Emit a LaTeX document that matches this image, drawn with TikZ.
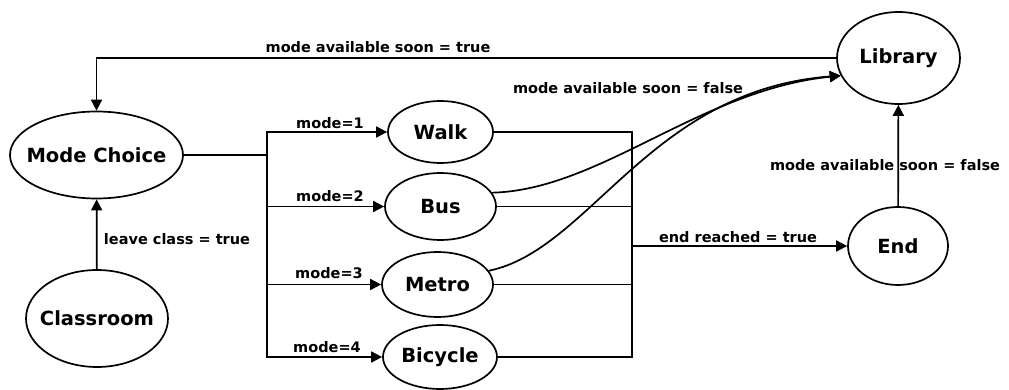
\documentclass[tikz,border=0pt]{standalone}
\usepackage{fontspec}
\setmainfont{DejaVu Sans}
\usetikzlibrary{arrows.meta,shapes.geometric}
\begin{document}
\begin{tikzpicture}[x=1pt,y=-1pt,
  state/.style={draw, ellipse, line width=1.7pt, inner sep=0pt,
    font=\fontsize{19.5}{22}\selectfont\bfseries},
  lab/.style={font=\fontsize{14.5}{16}\selectfont\bfseries, inner sep=0pt},
  conn/.style={line width=1.7pt},
  arr/.style={conn, -{Triangle[length=11pt,width=11pt]}}]
\useasboundingbox (0,0) rectangle (1009,390);
% states
\node[state, minimum width=173pt, minimum height=87pt] (mode) at (96.5,155) {\makebox[0pt]{Mode Choice}};
\node[state, minimum width=142pt, minimum height=97pt] (class) at (97,318.5) {\makebox[0pt]{Classroom}};
\node[state, minimum width=105pt, minimum height=62pt] (walk) at (440.5,132) {\makebox[0pt]{Walk}};
\node[state, minimum width=111pt, minimum height=67pt] (bus) at (440.5,206.5) {\makebox[0pt]{Bus}};
\node[state, minimum width=111pt, minimum height=65pt] (metro) at (437.5,284.5) {\makebox[0pt]{Metro}};
\node[state, minimum width=114pt, minimum height=64pt] (bike) at (440,357) {\makebox[0pt]{Bicycle}};
\node[state, minimum width=123pt, minimum height=92pt] (lib) at (898.5,58) {\makebox[0pt]{Library}};
\node[state, minimum width=100pt, minimum height=78pt] (end) at (898,246) {\makebox[0pt]{End}};
% junctions
\coordinate (split) at (267,155);
\coordinate (join) at (632,246);
% connectors
\draw[arr] (class) -- (mode);
\draw[conn] (mode.east) -- (split);
\draw[arr] (split) |- (walk.west);
\draw[arr] (split) |- (bus.west);
\draw[arr] (split) |- (metro.west);
\draw[arr] (split) |- (bike.west);
\draw[conn] (walk.east) -| (join);
\draw[conn] (bus.east) -| (join);
\draw[conn] (metro.east) -| (join);
\draw[conn] (bike.east) -| (join);
\draw[arr] (join) -- (end.west);
\draw[arr] (end) -- (lib);
\draw[arr] (lib.west) -| (mode.north);
\draw[arr] (bus.15) .. controls (600,190) and (700,90) .. (lib.197);
\draw[arr] (metro.15) .. controls (590,250) and (650,90) .. (lib.197);
% labels
\node[lab] (l1) at (378,47) {mode available soon = true};
\node[lab] (l2) at (628,88) {mode available soon = false};
\node[lab] (l3) at (885,165) {mode available soon = false};
\node[lab] (l4) at (738,237) {end reached = true};
\node[lab] (l5) at (177,239) {leave class = true};
\node[lab] (m1) at (330,123) {mode=1};
\node[lab] (m2) at (330,196) {mode=2};
\node[lab] (m3) at (329,273) {mode=3};
\node[lab] (m4) at (327,347) {mode=4};
\end{tikzpicture}
\end{document}
